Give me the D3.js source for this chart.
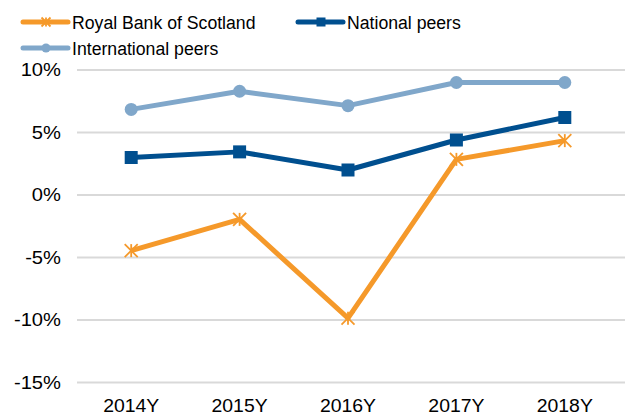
<!DOCTYPE html>
<html>
<head>
<meta charset="utf-8">
<script src="https://cdn.jsdelivr.net/npm/d3@7"></script>
<style>
  body { margin: 0; background: #fff; }
  text { font-family: "Liberation Sans", Arial, sans-serif; fill: #000; }
</style>
</head>
<body>
<svg id="chart" width="625" height="416"></svg>
<script>
const years = ["2014Y", "2015Y", "2016Y", "2017Y", "2018Y"]
const rbs = [-4.45, -1.95, -9.85, 2.85, 4.35]
const national = [3.0, 3.45, 2.0, 4.4, 6.2]
const international = [6.85, 8.3, 7.15, 9.0, 9.0]
const yTicks = [10, 5, 0, -5, -10, -15]

const series = [
  { name: "Royal Bank of Scotland", values: rbs, color: "#f5992a", marker: "star" },
  { name: "National peers", values: national, color: "#004f8f", marker: "square" },
  { name: "International peers", values: international, color: "#80a7ca", marker: "circle" }
]

const svg = d3.select("#chart")

const x = d3.scaleBand()
    .domain(years)
    .range([77, 619])

const y = d3.scaleLinear()
    .domain([-15, 10])
    .range([382.5, 70])

// gridlines
svg.append("g")
  .selectAll("line")
  .data(yTicks)
  .enter().append("line")
    .attr("x1", 77)
    .attr("x2", 625)
    .attr("y1", d => y(d))
    .attr("y2", d => y(d))
    .style("stroke", "#d9d9d9")
    .style("stroke-width", 2)

// y labels
svg.append("g")
  .selectAll("text")
  .data(yTicks)
  .enter().append("text")
    .attr("transform", d => `translate(61,${y(d)}) scale(1.12,1)`)
    .attr("dy", "0.35em")
    .attr("text-anchor", "end")
    .style("font-size", "18px")
    .text(d => d + "%")

// x labels
svg.append("g")
  .selectAll("text")
  .data(years)
  .enter().append("text")
    .attr("transform", d => `translate(${x(d) + x.bandwidth() / 2},412) scale(1.05,1)`)
    .attr("text-anchor", "middle")
    .style("font-size", "18.5px")
    .text(d => d)

function drawMarker(g, type, color, size) {
  if (type === "square") {
    g.append("rect")
      .attr("x", -size / 2).attr("y", -size / 2)
      .attr("width", size).attr("height", size)
      .style("fill", color)
  } else if (type === "circle") {
    g.append("circle")
      .attr("r", size / 2)
      .style("fill", color)
  } else {
    const h = size / 2
    const segs = [[-h, -h, h, h], [-h, h, h, -h], [0, -h, 0, h]]
    segs.forEach(s => {
      g.append("line")
        .attr("x1", s[0]).attr("y1", s[1]).attr("x2", s[2]).attr("y2", s[3])
        .style("stroke", color).style("stroke-width", 1.8)
    })
  }
}

const line = d3.line()
    .x((d, i) => x(years[i]) + x.bandwidth() / 2)
    .y(d => y(d))

// draw international first so it sits underneath
series.slice().reverse().forEach(s => {
  svg.append("path")
    .datum(s.values)
    .attr("d", line)
    .style("fill", "none")
    .style("stroke", s.color)
    .style("stroke-width", 5)
    .style("stroke-linejoin", "round")

  s.values.forEach((v, i) => {
    const g = svg.append("g")
      .attr("transform", `translate(${x(years[i]) + x.bandwidth() / 2},${y(v)})`)
    drawMarker(g, s.marker, s.color, 13)
  })
})

// legend
const legendPos = [[23, 22], [298, 22], [23, 48]]
series.forEach((s, i) => {
  const g = svg.append("g")
    .attr("transform", `translate(${legendPos[i][0]},${legendPos[i][1]})`)
  g.append("line")
    .attr("x1", 0).attr("x2", 45)
    .style("stroke", s.color)
    .style("stroke-width", 5)
    .style("stroke-linecap", "round")
  const m = g.append("g").attr("transform", "translate(23,0)")
  drawMarker(m, s.marker, s.color, 9)
  g.append("text")
    .attr("transform", "translate(49,0) scale(0.93,1)")
    .attr("dy", "0.36em")
    .style("font-size", "19px")
    .text(s.name)
})
</script>
</body>
</html>
